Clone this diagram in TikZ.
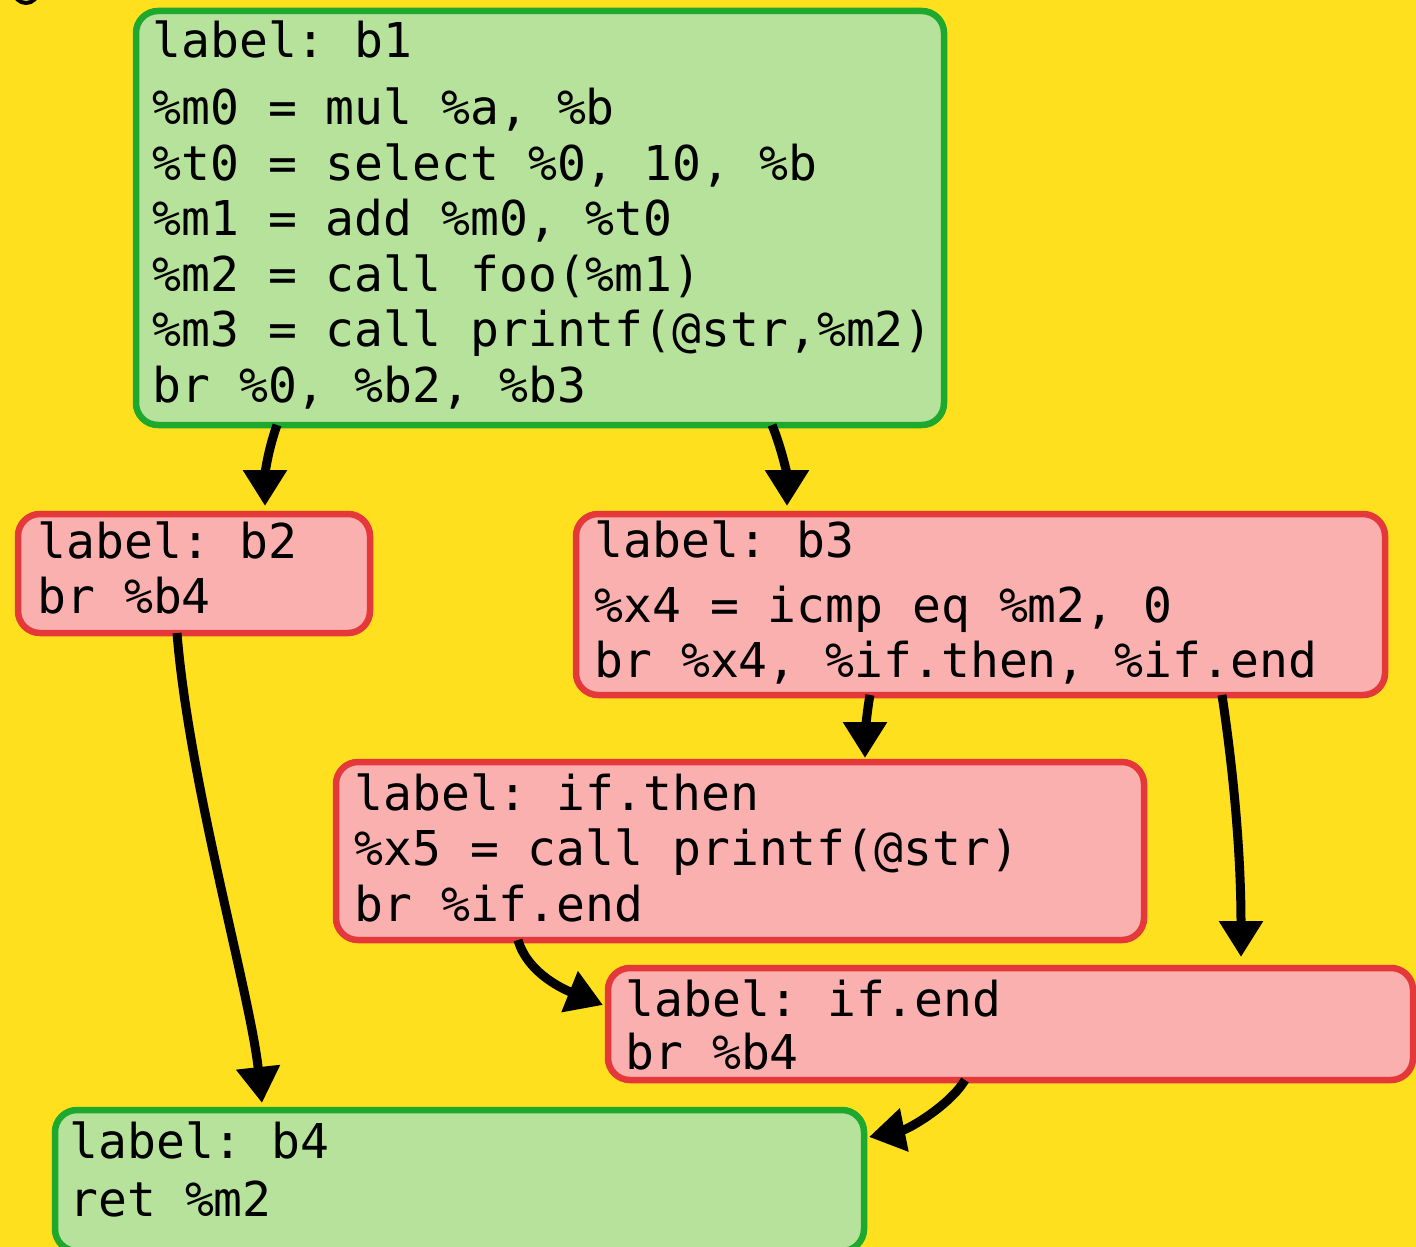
\documentclass[tikz,border=0pt]{standalone}
\usepackage{fontspec}
\newfontfamily\codefont{DejaVu Sans Mono}
\usetikzlibrary{arrows.meta,calc}
\definecolor{bgyellow}{HTML}{FFE01F}
\definecolor{okfill}{HTML}{B7E29C}
\definecolor{okline}{HTML}{1FA82E}
\definecolor{badfill}{HTML}{FBB0B0}
\definecolor{badline}{HTML}{E5383A}
\tikzset{
  blk/.style={rectangle, rounded corners=22pt, line width=6.5pt, inner sep=0pt,
    outer sep=0pt, anchor=north west},
  okblk/.style={blk, draw=okline, fill=okfill},
  badblk/.style={blk, draw=badline, fill=badfill},
  code/.style={anchor=base west, inner sep=0pt, outer sep=0pt,
    font=\codefont\fontsize{48pt}{55.5pt}\selectfont\frenchspacing},
  flow/.style={line width=9pt, -{Triangle[length=36pt,width=42pt]}},
}
\newcommand{\lines}[1]{\begin{tabular}[t]{@{}l@{}}#1\end{tabular}}
\begin{document}
\begin{tikzpicture}[x=1pt,y=-1pt]
  \fill[bgyellow] (0,0) rectangle (1416,1247);
  \useasboundingbox (0,0) rectangle (1416,1247);
  \draw[line width=4pt] (26,-9) circle[radius=12];

  % basic blocks
  \node[okblk,  minimum width=808pt, minimum height=414pt]   (b1)     at (136,11)   {};
  \node[badblk, minimum width=352pt, minimum height=119pt]   (b2)     at (18,514)   {};
  \node[badblk, minimum width=809pt, minimum height=181pt]   (b3)     at (576,514)  {};
  \node[badblk, minimum width=808pt, minimum height=178pt]   (ifthen) at (336,762)  {};
  \node[badblk, minimum width=805pt, minimum height=112pt]   (ifend)  at (608,968)  {};
  \node[okblk,  minimum width=809pt, minimum height=141pt]   (b4)     at (55,1110)  {};

  % block contents
  \node[code] (b1t) at (152.5,58) {\lines{label: b1\\[11.5pt]
    \%m0 = mul \%a, \%b\\
    \%t0 = select \%0, 10, \%b\\
    \%m1 = add \%m0, \%t0\\
    \%m2 = call foo(\%m1)\\
    \%m3 = call printf(@str,\%m2)\\
    br \%0, \%b2, \%b3}};
  \node[code] (b2t) at (37.5,558) {\lines{label: b2\\ br \%b4}};
  \node[code] (b3t) at (594.5,557) {\lines{label: b3\\[9.5pt]
    \%x4 = icmp eq \%m2, 0\\
    br \%x4, \%if.then, \%if.end}};
  \node[code] (ifthent) at (354.5,810) {\lines{label: if.then\\
    \%x5 = call printf(@str)\\
    br \%if.end}};
  \node[code] (ifendt) at (625.5,1016) {\lines{label: if.end\\[-2pt] br \%b4}};
  \node[code] (b4t) at (69.5,1158) {\lines{label: b4\\[3pt] ret \%m2}};

  % control-flow edges
  \draw[flow] ($(b1.south west)+(141,0)$) .. controls +(-10,28) and +(0,-30) .. ($(b2.north west)+(247,-8)$);
  \draw[flow] ($(b1.south west)+(636,0)$) .. controls +(10,24) and +(0,-30) .. ($(b3.north west)+(211,-8)$);
  \draw[flow] ($(b3.south west)+(294,0)$) .. controls +(-3,15) and +(0,-20) .. ($(ifthen.north west)+(529,-4)$);
  \draw[flow] ($(b3.south west)+(646,0)$) .. controls +(12,80) and +(0,-100) .. ($(ifend.north west)+(633,-11)$);
  \draw[flow] ($(b2.south west)+(159,0)$) .. controls +(12,150) and +(-12,-110) .. ($(b4.north west)+(207,-7)$);
  \draw[flow] ($(ifthen.south west)+(182,0)$) .. controls +(10,35) and +(-35,-14) .. ($(ifend.north west)+(-5,37)$);
  \draw[flow] ($(ifend.south west)+(357,0)$) .. controls +(-15,25) and +(40,-8) .. ($(b4.north east)+(5,27)$);
\end{tikzpicture}
\end{document}
